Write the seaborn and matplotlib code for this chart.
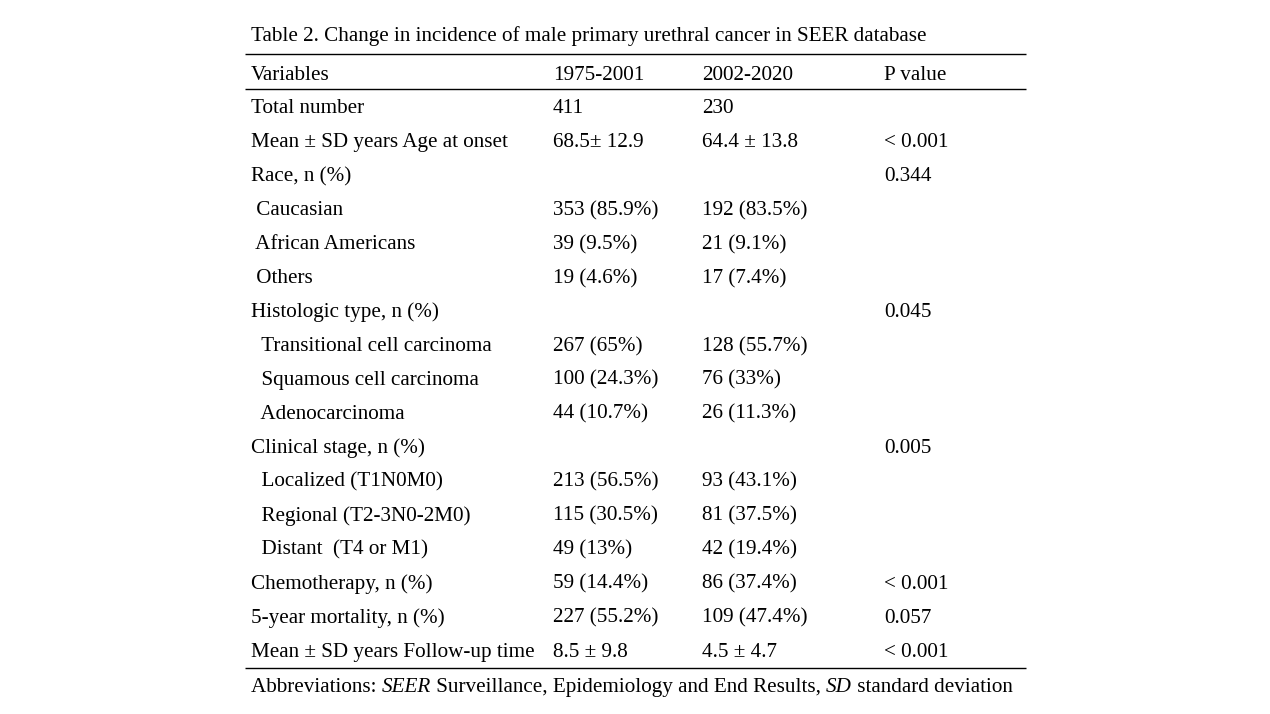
import matplotlib
matplotlib.use("Agg")
import matplotlib.pyplot as plt
import seaborn as sns

sns.set_theme(style="white")
plt.rcParams['font.family'] = ['Liberation Serif', 'DejaVu Serif']

title = "Table 2. Change in incidence of male primary urethral cancer in SEER database"
headers = ["Variables", "1975-2001", "2002-2020", "P value"]
variables = ["Total number", "Mean \u00b1 SD years Age at onset", "Race, n (%)",
             " Caucasian", " African Americans", " Others",
             "Histologic type, n (%)", "  Transitional cell carcinoma",
             "  Squamous cell carcinoma", "  Adenocarcinoma",
             "Clinical stage, n (%)", "  Localized (T1N0M0)",
             "  Regional (T2-3N0-2M0)", "  Distant  (T4 or M1)",
             "Chemotherapy, n (%)", "5-year mortality, n (%)",
             "Mean \u00b1 SD years Follow-up time"]
period_1975_2001 = ["411", "68.5\u00b1 12.9", "", "353 (85.9%)", "39 (9.5%)", "19 (4.6%)",
                    "", "267 (65%)", "100 (24.3%)", "44 (10.7%)", "",
                    "213 (56.5%)", "115 (30.5%)", "49 (13%)", "59 (14.4%)",
                    "227 (55.2%)", "8.5 \u00b1 9.8"]
period_2002_2020 = ["230", "64.4 \u00b1 13.8", "", "192 (83.5%)", "21 (9.1%)", "17 (7.4%)",
                    "", "128 (55.7%)", "76 (33%)", "26 (11.3%)", "",
                    "93 (43.1%)", "81 (37.5%)", "42 (19.4%)", "86 (37.4%)",
                    "109 (47.4%)", "4.5 \u00b1 4.7"]
p_values = ["", "< 0.001", "0.344", "", "", "", "0.045", "", "", "", "0.005",
            "", "", "", "< 0.001", "0.057", "< 0.001"]
footnote = [("Abbreviations: ", "normal"), ("SEER", "italic"),
            (" Surveillance, Epidemiology and End Results, ", "normal"),
            ("SD", "italic"), (" standard deviation", "normal")]

W, H = 1270, 714
fig = plt.figure(figsize=(W / 100, H / 100), dpi=100)
ax = fig.add_axes([0, 0, 1, 1])
ax.set_xlim(0, W)
ax.set_ylim(H, 0)
ax.axis("off")

fs = 15.2
col_x = [251, 553, 702, 884]
x0, x1 = 245, 1026
row0, dy = 113.3, 33.96

ax.text(251, 41, title, fontsize=fs, va="baseline", ha="left", color="black")
for y in (54.3, 88.7, 668.3):
    ax.plot([x0, x1], [y, y], color="black", lw=1.0, solid_capstyle="butt")

for x, h in zip(col_x, headers):
    ax.text(x, 80, h, fontsize=fs, va="baseline", ha="left", color="black")

columns = [variables, period_1975_2001, period_2002_2020, p_values]
for i in range(len(variables)):
    y = row0 + i * dy
    for x, col in zip(col_x, columns):
        ax.text(x, y, col[i], fontsize=fs, va="baseline", ha="left", color="black")

fig.canvas.draw()
renderer = fig.canvas.get_renderer()
x = 251
for txt, style in footnote:
    t = ax.text(x, 692, txt, fontsize=fs, va="baseline", ha="left", style=style, color="black")
    bb = t.get_window_extent(renderer=renderer)
    x += bb.width

fig.savefig("out.png", dpi=100, facecolor="white")
